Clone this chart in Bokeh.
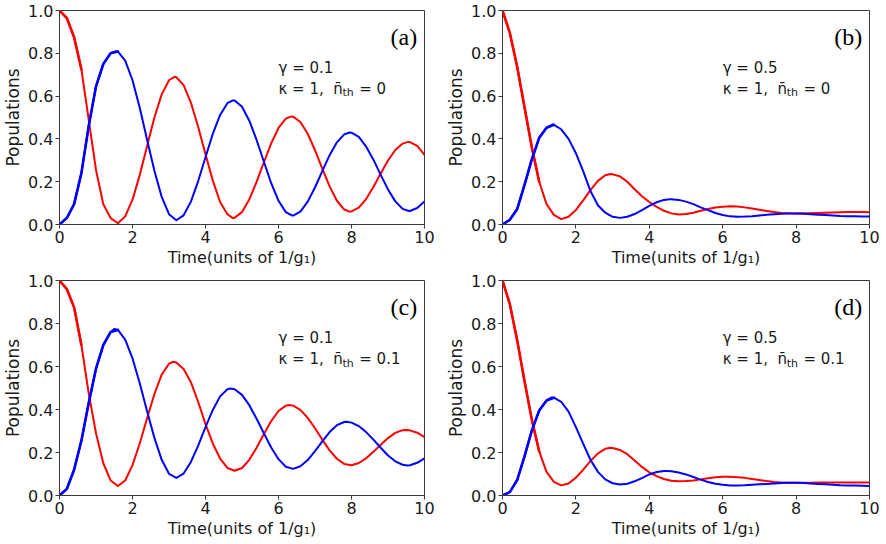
from bokeh.plotting import figure
from bokeh.models import FixedTicker, Label, BasicTickFormatter
from bokeh.layouts import gridplot
from bokeh.embed import file_html
from bokeh.resources import INLINE

# ---------------- data ----------------
TIME = [0.0, 0.2, 0.4, 0.6, 0.8, 1.0, 1.2, 1.4, 1.6, 1.8,
        2.0, 2.2, 2.4, 2.6, 2.8, 3.0, 3.2, 3.4, 3.6, 3.8,
        4.0, 4.2, 4.4, 4.6, 4.8, 5.0, 5.2, 5.4, 5.6, 5.8,
        6.0, 6.2, 6.4, 6.6, 6.8, 7.0, 7.2, 7.4, 7.6, 7.8,
        8.0, 8.2, 8.4, 8.6, 8.8, 9.0, 9.2, 9.4, 9.6, 9.8, 10.0]

# panel (a): gamma = 0.1, n_th = 0
RED_A = [1.000, 0.965, 0.875, 0.725, 0.490, 0.255, 0.095, 0.030, 0.006, 0.038,
         0.116, 0.232, 0.367, 0.500, 0.608, 0.674, 0.688, 0.651, 0.569, 0.456,
         0.328, 0.205, 0.105, 0.048, 0.032, 0.058, 0.117, 0.199, 0.291, 0.379,
         0.451, 0.495, 0.504, 0.479, 0.424, 0.347, 0.261, 0.178, 0.111, 0.070,
         0.061, 0.079, 0.119, 0.175, 0.238, 0.299, 0.348, 0.378, 0.385, 0.367, 0.325]
BLUE_A = [0.000, 0.030, 0.095, 0.240, 0.460, 0.645, 0.750, 0.800, 0.808, 0.766,
          0.674, 0.544, 0.396, 0.251, 0.129, 0.048, 0.020, 0.043, 0.107, 0.203,
          0.314, 0.424, 0.512, 0.567, 0.579, 0.550, 0.485, 0.395, 0.293, 0.193,
          0.111, 0.058, 0.042, 0.060, 0.107, 0.173, 0.249, 0.324, 0.384, 0.421,
          0.429, 0.409, 0.364, 0.303, 0.232, 0.164, 0.108, 0.073, 0.063, 0.077, 0.108]
RED_A_EXT_T = [3.15, 4.75, 6.35, 7.95, 9.55]
RED_A_EXT_V = [0.690, 0.030, 0.505, 0.060, 0.386]
BLUE_A_EXT_T = [1.55, 4.75, 6.38, 7.95, 9.57]
BLUE_A_EXT_V = [0.810, 0.580, 0.042, 0.430, 0.063]

# panel (b): gamma = 0.5, n_th = 0
RED_B = [1.000, 0.895, 0.737, 0.548, 0.360, 0.200, 0.095, 0.045, 0.025, 0.036,
         0.068, 0.113, 0.162, 0.204, 0.230, 0.235, 0.225, 0.200, 0.165, 0.132,
         0.105, 0.082, 0.064, 0.052, 0.047, 0.049, 0.055, 0.064, 0.072, 0.079,
         0.083, 0.085, 0.084, 0.080, 0.075, 0.069, 0.063, 0.058, 0.054, 0.052,
         0.051, 0.052, 0.053, 0.054, 0.055, 0.056, 0.057, 0.058, 0.058, 0.058, 0.057]
BLUE_B = [0.000, 0.022, 0.072, 0.185, 0.305, 0.405, 0.452, 0.466, 0.445, 0.400,
          0.333, 0.248, 0.155, 0.090, 0.055, 0.036, 0.031, 0.036, 0.049, 0.067,
          0.087, 0.104, 0.115, 0.118, 0.115, 0.107, 0.095, 0.080, 0.067, 0.054,
          0.044, 0.038, 0.036, 0.037, 0.039, 0.042, 0.045, 0.048, 0.050, 0.051,
          0.051, 0.050, 0.048, 0.046, 0.044, 0.042, 0.040, 0.039, 0.038, 0.037, 0.037]
RED_B_EXT_T = [2.94]
RED_B_EXT_V = [0.236]
BLUE_B_EXT_T = [1.36, 4.56]
BLUE_B_EXT_V = [0.467, 0.118]

# panel (c): gamma = 0.1, n_th = 0.1
RED_C = [1.000, 0.960, 0.875, 0.700, 0.475, 0.290, 0.150, 0.070, 0.044, 0.070,
         0.141, 0.243, 0.359, 0.472, 0.562, 0.613, 0.619, 0.588, 0.527, 0.435,
         0.332, 0.242, 0.172, 0.128, 0.115, 0.128, 0.166, 0.222, 0.286, 0.346,
         0.393, 0.418, 0.418, 0.398, 0.361, 0.313, 0.260, 0.210, 0.171, 0.147,
         0.141, 0.151, 0.173, 0.203, 0.236, 0.267, 0.291, 0.304, 0.303, 0.292, 0.272]
BLUE_C = [0.000, 0.030, 0.120, 0.255, 0.430, 0.590, 0.700, 0.760, 0.770, 0.725,
          0.638, 0.521, 0.392, 0.268, 0.166, 0.101, 0.082, 0.102, 0.156, 0.232,
          0.318, 0.398, 0.461, 0.494, 0.494, 0.468, 0.420, 0.357, 0.289, 0.223,
          0.169, 0.134, 0.124, 0.136, 0.165, 0.206, 0.252, 0.295, 0.327, 0.342,
          0.339, 0.323, 0.295, 0.260, 0.222, 0.186, 0.159, 0.143, 0.141, 0.152, 0.173]
RED_C_EXT_T = [3.12, 6.29, 9.49]
RED_C_EXT_V = [0.622, 0.421, 0.305]
BLUE_C_EXT_T = [1.51, 4.69, 7.86, 9.53]
BLUE_C_EXT_V = [0.775, 0.498, 0.343, 0.140]

# panel (d): gamma = 0.5, n_th = 0.1
RED_D = [1.000, 0.890, 0.722, 0.532, 0.352, 0.205, 0.110, 0.063, 0.047, 0.056,
         0.083, 0.120, 0.161, 0.196, 0.217, 0.221, 0.212, 0.192, 0.163, 0.133,
         0.108, 0.090, 0.077, 0.069, 0.066, 0.067, 0.070, 0.075, 0.080, 0.085,
         0.087, 0.087, 0.085, 0.082, 0.077, 0.072, 0.067, 0.063, 0.061, 0.059,
         0.059, 0.059, 0.059, 0.060, 0.060, 0.060, 0.060, 0.060, 0.060, 0.060, 0.060]
BLUE_D = [0.000, 0.016, 0.072, 0.182, 0.303, 0.395, 0.442, 0.455, 0.436, 0.390,
          0.318, 0.240, 0.165, 0.110, 0.075, 0.057, 0.051, 0.055, 0.066, 0.081,
          0.098, 0.109, 0.114, 0.113, 0.107, 0.098, 0.086, 0.074, 0.063, 0.055,
          0.050, 0.047, 0.047, 0.048, 0.050, 0.052, 0.054, 0.056, 0.058, 0.059,
          0.059, 0.058, 0.056, 0.054, 0.052, 0.050, 0.048, 0.047, 0.046, 0.045, 0.044]
RED_D_EXT_T = [2.94]
RED_D_EXT_V = [0.222]
BLUE_D_EXT_T = [1.34, 4.47]
BLUE_D_EXT_V = [0.456, 0.114]

X_TICKS = [0, 2, 4, 6, 8, 10]
X_TICK_LABELS = ["0", "2", "4", "6", "8", "10"]
Y_TICKS = [0.0, 0.2, 0.4, 0.6, 0.8, 1.0]
Y_TICK_LABELS = ["0.0", "0.2", "0.4", "0.6", "0.8", "1.0"]

PANEL_TAGS = ["(a)", "(b)", "(c)", "(d)"]
GAMMA_TEXT = ["\u03b3 = 0.1", "\u03b3 = 0.5", "\u03b3 = 0.1", "\u03b3 = 0.5"]
NTH_VALUES = ["0", "0", "0.1", "0.1"]
X_LABEL = "Time(units of 1/g\u2081)"
Y_LABEL = "Populations"

FONT = "DejaVu Sans"
INK = "#1a1a1a"
FRAME = "#3a3a3a"
NB = "\u00a0"


def merged(ts, vs, ext_t, ext_v):
    pairs = sorted(zip(list(ts) + list(ext_t), list(vs) + list(ext_v)))
    return [a for a, _ in pairs], [b for _, b in pairs]


def make_panel(red, blue, red_ext, blue_ext, idx, left, right, top, bottom,
               red_fuzz, blue_fuzz):
    p = figure(width=443, height=272, x_range=(0, 10), y_range=(0, 1),
               output_backend="svg", toolbar_location=None,
               min_border_left=left, min_border_right=right,
               min_border_top=top, min_border_bottom=bottom)
    p.background_fill_color = "white"
    p.border_fill_color = "white"
    p.outline_line_color = FRAME
    p.outline_line_width = 1
    p.xgrid.visible = False
    p.ygrid.visible = False

    rt, rv = merged(TIME, red, *red_ext)
    bt, bv = merged(TIME, blue, *blue_ext)
    p.line(rt, rv, line_color="#ff0000", line_width=2, line_join="round")
    p.line(bt, bv, line_color="#0000ff", line_width=2, line_join="round")
    # early part of both traces drawn a little heavier (fast ripple in the original)
    p.line(TIME[:red_fuzz], red[:red_fuzz], line_color="#ff0000", line_width=2.6,
           line_join="round", line_cap="round")
    p.line(TIME[:blue_fuzz], blue[:blue_fuzz], line_color="#0000ff", line_width=2.6,
           line_join="round", line_cap="round")

    p.xaxis.ticker = FixedTicker(ticks=X_TICKS)
    p.xaxis.major_label_overrides = {t: l for t, l in zip(X_TICKS, X_TICK_LABELS)}
    p.yaxis.ticker = FixedTicker(ticks=Y_TICKS)
    p.yaxis.formatter = BasicTickFormatter(precision=1)
    p.yaxis.major_label_overrides = {t: l for t, l in zip(Y_TICKS, Y_TICK_LABELS)}

    for ax in (p.xaxis[0], p.yaxis[0]):
        ax.axis_line_color = FRAME
        ax.major_tick_line_color = FRAME
        ax.major_tick_out = 4
        ax.major_tick_in = 0
        ax.minor_tick_line_color = None
        ax.major_label_text_font = FONT
        ax.major_label_text_font_size = "16px"
        ax.major_label_text_color = INK
        ax.major_label_standoff = 2
        ax.axis_label_text_font = FONT
        ax.axis_label_text_font_style = "normal"
        ax.axis_label_text_color = INK
    p.xaxis.axis_label = X_LABEL
    p.xaxis.axis_label_text_font_size = "16px"
    p.xaxis.axis_label_standoff = 2
    p.yaxis.axis_label = Y_LABEL
    p.yaxis.axis_label_text_font_size = "17px"
    p.yaxis.axis_label_standoff = 2

    # panel tag
    p.add_layout(Label(x=9.8, y=0.875, text=PANEL_TAGS[idx],
                       text_font="Liberation Serif", text_font_size="24px",
                       text_color="black", text_align="right",
                       text_baseline="alphabetic"))
    # parameter annotations
    p.add_layout(Label(x=6.0, y=0.733, text=GAMMA_TEXT[idx],
                       text_font=FONT, text_font_size="15px", text_color=INK,
                       text_align="left", text_baseline="alphabetic"))
    p.add_layout(Label(x=6.0, y=0.633, text="\u03ba = 1," + NB + NB + "n\u0304",
                       text_font=FONT, text_font_size="15px", text_color=INK,
                       text_align="left", text_baseline="alphabetic"))
    p.add_layout(Label(x=6.0, y=0.615, x_offset=64, text="th",
                       text_font=FONT, text_font_size="11px", text_color=INK,
                       text_align="left", text_baseline="alphabetic"))
    p.add_layout(Label(x=6.0, y=0.633, x_offset=76, text=NB + "=" + NB + NTH_VALUES[idx],
                       text_font=FONT, text_font_size="15px", text_color=INK,
                       text_align="left", text_baseline="alphabetic"))
    return p


pa = make_panel(RED_A, BLUE_A, (RED_A_EXT_T, RED_A_EXT_V), (BLUE_A_EXT_T, BLUE_A_EXT_V),
                0, left=55, right=19, top=10, bottom=48, red_fuzz=4, blue_fuzz=9)
pb = make_panel(RED_B, BLUE_B, (RED_B_EXT_T, RED_B_EXT_V), (BLUE_B_EXT_T, BLUE_B_EXT_V),
                1, left=57, right=17, top=10, bottom=48, red_fuzz=6, blue_fuzz=8)
pc = make_panel(RED_C, BLUE_C, (RED_C_EXT_T, RED_C_EXT_V), (BLUE_C_EXT_T, BLUE_C_EXT_V),
                2, left=54, right=19, top=8, bottom=49, red_fuzz=4, blue_fuzz=9)
pd = make_panel(RED_D, BLUE_D, (RED_D_EXT_T, RED_D_EXT_V), (BLUE_D_EXT_T, BLUE_D_EXT_V),
                3, left=56, right=16, top=8, bottom=49, red_fuzz=6, blue_fuzz=8)

grid = gridplot([[pa, pb], [pc, pd]], toolbar_location=None)

open("out.html", "w").write(file_html(grid, INLINE))
